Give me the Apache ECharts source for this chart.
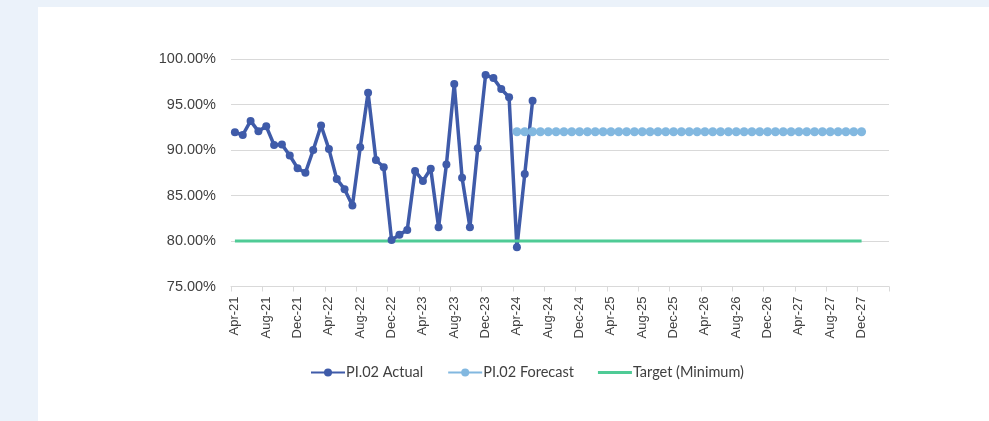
<!DOCTYPE html>
<html>
<head>
<meta charset="utf-8">
<script src="https://cdn.jsdelivr.net/npm/echarts@6/dist/echarts.min.js"></script>
<style>
html,body{margin:0;padding:0;background:#EBF2FA;}
#panel{position:absolute;left:38px;top:7px;width:951px;height:414px;background:#fff;}
#chart{position:absolute;left:0;top:0;width:989px;height:421px;}
</style>
</head>
<body>
<div id="panel"></div>
<div id="chart"></div>
<script>
const months = [
"Apr-21","May-21","Jun-21","Jul-21","Aug-21","Sep-21","Oct-21","Nov-21","Dec-21",
"Jan-22","Feb-22","Mar-22","Apr-22","May-22","Jun-22","Jul-22","Aug-22","Sep-22","Oct-22","Nov-22","Dec-22",
"Jan-23","Feb-23","Mar-23","Apr-23","May-23","Jun-23","Jul-23","Aug-23","Sep-23","Oct-23","Nov-23","Dec-23",
"Jan-24","Feb-24","Mar-24","Apr-24","May-24","Jun-24","Jul-24","Aug-24","Sep-24","Oct-24","Nov-24","Dec-24",
"Jan-25","Feb-25","Mar-25","Apr-25","May-25","Jun-25","Jul-25","Aug-25","Sep-25","Oct-25","Nov-25","Dec-25",
"Jan-26","Feb-26","Mar-26","Apr-26","May-26","Jun-26","Jul-26","Aug-26","Sep-26","Oct-26","Nov-26","Dec-26",
"Jan-27","Feb-27","Mar-27","Apr-27","May-27","Jun-27","Jul-27","Aug-27","Sep-27","Oct-27","Nov-27","Dec-27",
"Jan-28","Feb-28","Mar-28"
];
const actual = [
91.95,91.65,93.2,92.05,92.6,90.55,90.6,89.4,88.0,87.5,90.0,92.7,90.1,86.8,85.7,83.9,
90.3,96.3,88.9,88.1,80.1,80.7,81.2,87.7,86.6,87.95,81.5,88.4,97.25,86.95,81.5,90.2,
98.25,97.9,96.7,95.8,79.3,87.35,95.4
];
const forecastStart = 36;
const forecast = [
92,92,92,92,92,92,92,92,92,92,92,92,92,92,92,92,92,92,92,92,92,92,92,
92,92,92,92,92,92,92,92,92,92,92,92,92,92,92,92,92,92,92,92,92,92
];
const target = [
80,80,80,80,80,80,80,80,80,80,80,80,80,80,80,80,80,80,80,80,80,80,80,80,80,80,80,
80,80,80,80,80,80,80,80,80,80,80,80,80,80,80,80,80,80,80,80,80,80,80,80,80,80,80,
80,80,80,80,80,80,80,80,80,80,80,80,80,80,80,80,80,80,80,80,80,80,80,80,80,80,80
];
const yTicks = {min:75, max:100, interval:5};

function pad(arr, start){
  const out = new Array(months.length).fill(null);
  arr.forEach((v,i)=>{ out[start+i]=v; });
  return out;
}

const chart = echarts.init(document.getElementById('chart'), null, {renderer:'canvas'});
chart.setOption({
  animation:false,
  backgroundColor:'transparent',
  grid:{left:231, right:100, top:59, bottom:134.5, containLabel:false},
  legend:{
    top:360,
    left:305,
    itemWidth:34, itemHeight:10, itemGap:24,
    textStyle:{fontFamily:'Lato', fontSize:14.5, color:'#404040', padding:[0,0,0,-4]},
    data:['PI.02 Actual','PI.02 Forecast',
      {name:'Target (Minimum)', icon:'path://M0,0 L34,0 L34,3 L0,3 Z'}]
  },
  xAxis:{
    type:'category',
    data:months,
    boundaryGap:true,
    axisLine:{lineStyle:{color:'#D9D9D9', width:1}},
    axisTick:{show:true, interval:3, length:5, lineStyle:{color:'#D9D9D9'}},
    axisLabel:{interval:3, rotate:90, margin:10, fontFamily:'Liberation Sans', fontSize:13, color:'#404040'},
    splitLine:{show:false}
  },
  yAxis:{
    type:'value',
    min:yTicks.min, max:yTicks.max, interval:yTicks.interval,
    axisLine:{show:false},
    axisTick:{show:false},
    axisLabel:{fontFamily:'Liberation Sans', fontSize:14.5, color:'#404040', margin:15,
      formatter:v=>v.toFixed(2)+'%'},
    splitLine:{lineStyle:{color:'#D9D9D9', width:1}}
  },
  series:[
    {
      name:'PI.02 Actual', type:'line',
      data:pad(actual,0),
      symbol:'circle', symbolSize:8, showAllSymbol:true,
      lineStyle:{color:'#3F5BA9', width:3.5},
      itemStyle:{color:'#3F5BA9'}
    },
    {
      name:'PI.02 Forecast', type:'line',
      data:pad(forecast,forecastStart),
      symbol:'circle', symbolSize:9, showAllSymbol:true,
      lineStyle:{color:'#82B8E0', width:3.5},
      itemStyle:{color:'#82B8E0'}
    },
    {
      name:'Target (Minimum)', type:'line',
      data:pad(target,0),
      symbol:'none',
      lineStyle:{color:'#4FCB96', width:3},
      itemStyle:{color:'#4FCB96'}
    }
  ]
});
</script>
</body>
</html>
